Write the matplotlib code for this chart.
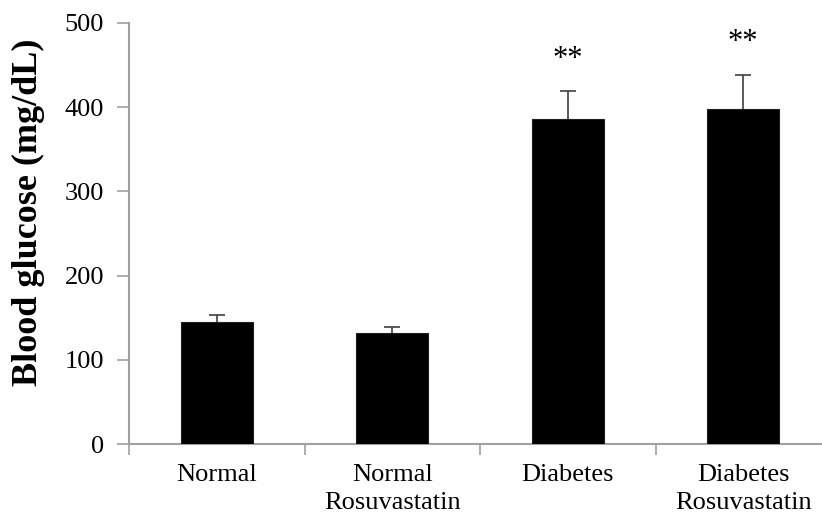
import matplotlib
matplotlib.use('Agg')
import matplotlib.pyplot as plt

groups = ['Normal', 'Normal\nRosuvastatin', 'Diabetes', 'Diabetes\nRosuvastatin']
glucose = [145, 132, 386, 398]
sem = [8.5, 7.5, 32.5, 40.5]
marks = ['', '', '**', '**']

plt.rcParams['font.family'] = ['Liberation Serif', 'DejaVu Serif']

fig = plt.figure(figsize=(8.22, 5.21), dpi=100)
ax = fig.add_axes([129 / 822, 76.7 / 521, 702 / 822, 421.6 / 521])

x = list(range(len(groups)))
ax.bar(x, glucose, width=0.41, color='black', edgecolor='#202020', linewidth=0.8, zorder=3)
eb = ax.errorbar(x, glucose, yerr=[[0] * len(sem), sem], fmt='none', capsize=6,
                 ecolor='#404040', elinewidth=1.2, capthick=1.2, zorder=2)
# only the upper cap is wanted
eb[1][0].set_visible(False)

for xi, m, s, mk in zip(x, glucose, sem, marks):
    if mk:
        ax.annotate(mk, (xi, m + s), xytext=(0, 23), textcoords='offset points',
                    ha='center', va='center', fontsize=22)

ax.set_xlim(-0.5, 3.5)
ax.set_ylim(0, 500)
ax.set_yticks([0, 100, 200, 300, 400, 500])
ax.set_ylabel('Blood glucose (mg/dL)', fontsize=26, fontweight='bold')
ax.yaxis.set_label_coords(-0.12, 0.55)

ax.set_xticks([-0.5, 0.5, 1.5, 2.5, 3.5])
ax.set_xticklabels([])
ax.set_xticks(x, minor=True)
ax.set_xticklabels(groups, minor=True, fontsize=19, linespacing=1.35)
ax.tick_params(axis='x', which='minor', length=0, pad=14)
ax.tick_params(axis='x', which='major', length=8, width=1.2, color='#a0a0a0', direction='out')
ax.tick_params(axis='y', length=9, width=1.2, color='#a0a0a0', direction='out', labelsize=19, pad=9)

for side in ['top', 'right']:
    ax.spines[side].set_visible(False)
for side in ['left', 'bottom']:
    ax.spines[side].set_color('#a0a0a0')
    ax.spines[side].set_linewidth(1.5)

fig.savefig('out.png', dpi=100)
